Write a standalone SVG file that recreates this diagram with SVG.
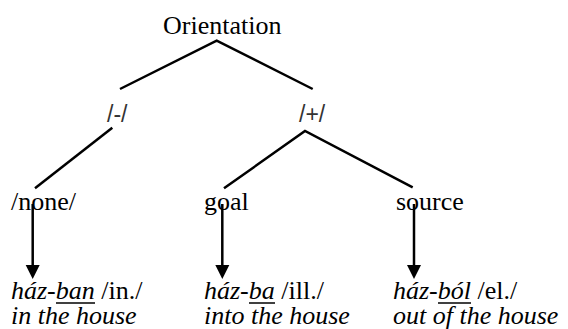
<svg xmlns="http://www.w3.org/2000/svg" width="568" height="329" viewBox="0 0 568 329">
<rect width="568" height="329" fill="#fff"/>
<g id="connectors" stroke="#000" stroke-width="2.5" fill="none">
<path d="M120,89 L216.7,40.7 L312.7,89"/>
<path d="M112.3,127.7 L35,188.3"/>
<path d="M224,188.3 L305,131 L412.7,187.3"/>
<path d="M32.7,204 L32.7,266"/>
<path d="M222.3,204 L222.3,266"/>
<path d="M414,204 L414,266"/>
<polygon points="25.7,265 39.7,265 32.7,279" fill="#000" stroke="none"/>
<polygon points="215.3,265 229.3,265 222.3,279" fill="#000" stroke="none"/>
<polygon points="407,265 421,265 414,279" fill="#000" stroke="none"/>
</g>
<g id="orientation"><text x="163" y="34" font-family="Liberation Serif" font-size="26">Orientation</text></g>
<g id="minus"><text x="107" y="122" font-family="Liberation Sans" font-size="23" fill="#333">/-/</text></g>
<g id="plus"><text x="299" y="122" font-family="Liberation Sans" font-size="23" fill="#333">/+/</text></g>
<g id="none"><text x="11" y="209.5" font-family="Liberation Serif" font-size="26">/none/</text></g>
<g id="goal"><text x="204" y="209.5" font-family="Liberation Serif" font-size="26">goal</text></g>
<g id="source"><text x="396" y="209.5" font-family="Liberation Serif" font-size="26">source</text></g>
<g id="inessive">
<text x="11" y="299" font-family="Liberation Serif" font-size="26"><tspan font-style="italic">ház-ban</tspan> /in./</text>
<path d="M56,303 H95" stroke="#000" stroke-width="1.5"/>
<text x="11" y="324" font-family="Liberation Serif" font-size="26" font-style="italic">in the house</text>
</g>
<g id="illative">
<text x="204" y="299" font-family="Liberation Serif" font-size="26"><tspan font-style="italic">ház-ba</tspan> /ill./</text>
<path d="M249,303 H275" stroke="#000" stroke-width="1.5"/>
<text x="204" y="324" font-family="Liberation Serif" font-size="26" font-style="italic">into the house</text>
</g>
<g id="elative">
<text x="393" y="299" font-family="Liberation Serif" font-size="26"><tspan font-style="italic">ház-ból</tspan> /el./</text>
<path d="M438,303 H471" stroke="#000" stroke-width="1.5"/>
<text x="393" y="324" font-family="Liberation Serif" font-size="26" font-style="italic">out of the house</text>
</g>
</svg>
